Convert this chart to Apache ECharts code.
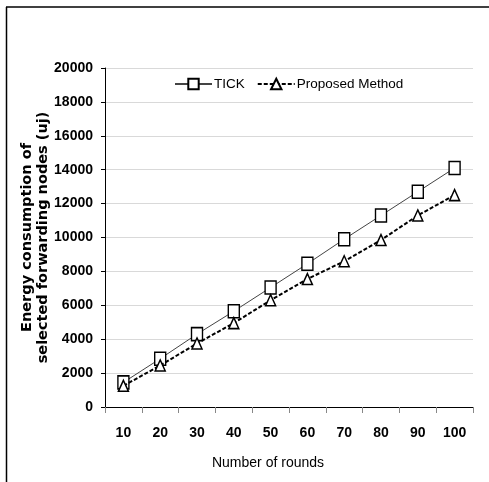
<!DOCTYPE html>
<html>
<head>
<meta charset="utf-8">
<script src="https://cdn.jsdelivr.net/npm/echarts@6/dist/echarts.min.js"></script>
<style>
html,body{margin:0;padding:0;background:#fff;}
#chart{width:489px;height:482px;}
</style>
</head>
<body>
<div id="chart"></div>
<script>
const categories = ['10','20','30','40','50','60','70','80','90','100'];
const tickValues = [1450, 2850, 4300, 5650, 7050, 8450, 9900, 11300, 12700, 14100];
const proposedValues = [1250, 2450, 3750, 4950, 6300, 7550, 8600, 9850, 11300, 12500];
const yMin = 0, yMax = 20000, yInterval = 2000;

const sans = '"Liberation Sans", Arial, sans-serif';
const chart = echarts.init(document.getElementById('chart'));
chart.setOption({
  animation: false,
  backgroundColor: '#fff',
  graphic: [
    {type:'line', shape:{x1:6, y1:7, x2:489, y2:7}, style:{stroke:'#000', lineWidth:1.5}},
    {type:'line', shape:{x1:6.5, y1:7, x2:6.5, y2:482}, style:{stroke:'#000', lineWidth:1.5}}
  ],
  grid: {left:105, right:16, top:68, bottom:75, containLabel:false, outerBoundsMode:'none'},
  legend: {
    top: 77,
    left: 174,
    padding: 0,
    itemWidth: 37,
    itemHeight: 13,
    itemGap: 12,
    textStyle: {fontFamily: sans, fontSize: 13.5, color:'#000', padding:[0,0,0,-3]},
    data: ['TICK', 'Proposed Method']
  },
  xAxis: {
    type: 'category',
    data: categories,
    boundaryGap: true,
    axisLine: {lineStyle:{color:'#000', width:1}},
    axisTick: {show:true, length:6, lineStyle:{color:'#888'}},
    axisLabel: {interval:0, fontFamily: sans, fontSize: 14, fontWeight:'bold', color:'#000', margin:19},
    name: 'Number of rounds',
    nameLocation: 'middle',
    nameGap: 49,
    nameTextStyle: {fontFamily: sans, fontSize: 14, color:'#000', padding:[0,42,0,0]}
  },
  yAxis: {
    type: 'value',
    min: yMin, max: yMax, interval: yInterval,
    axisLine: {show:true, lineStyle:{color:'#000', width:1}},
    axisTick: {show:true, length:4, lineStyle:{color:'#000'}},
    splitLine: {lineStyle:{color:'#d9d9d9', width:1}},
    axisLabel: {formatter: v => String(v), fontFamily: sans, fontSize: 14, fontWeight:'bold', color:'#000', margin:12},
    name: 'Energy consumption of\nselected forwarding nodes (uj)',
    nameLocation: 'middle',
    nameRotate: 90,
    nameMoveOverlap: false,
    nameGap: 54,
    nameTextStyle: {fontFamily:'"DejaVu Sans", sans-serif', fontSize:14.5, fontWeight:'bold', color:'#000', lineHeight:16}
  },
  series: [
    {
      name: 'TICK',
      type: 'line',
      data: tickValues,
      symbol: 'rect',
      symbolSize: [11, 13],
      lineStyle: {color:'#444', width:1, type:'solid'},
      itemStyle: {color:'#fff', borderColor:'#000', borderWidth:1.5},
      z: 3
    },
    {
      name: 'Proposed Method',
      type: 'line',
      data: proposedValues,
      symbol: 'triangle',
      symbolSize: [10, 11],
      lineStyle: {color:'#000', width:2, type:[4,2]},
      itemStyle: {color:'#fff', borderColor:'#000', borderWidth:1.5},
      z: 4
    }
  ]
});
</script>
</body>
</html>
